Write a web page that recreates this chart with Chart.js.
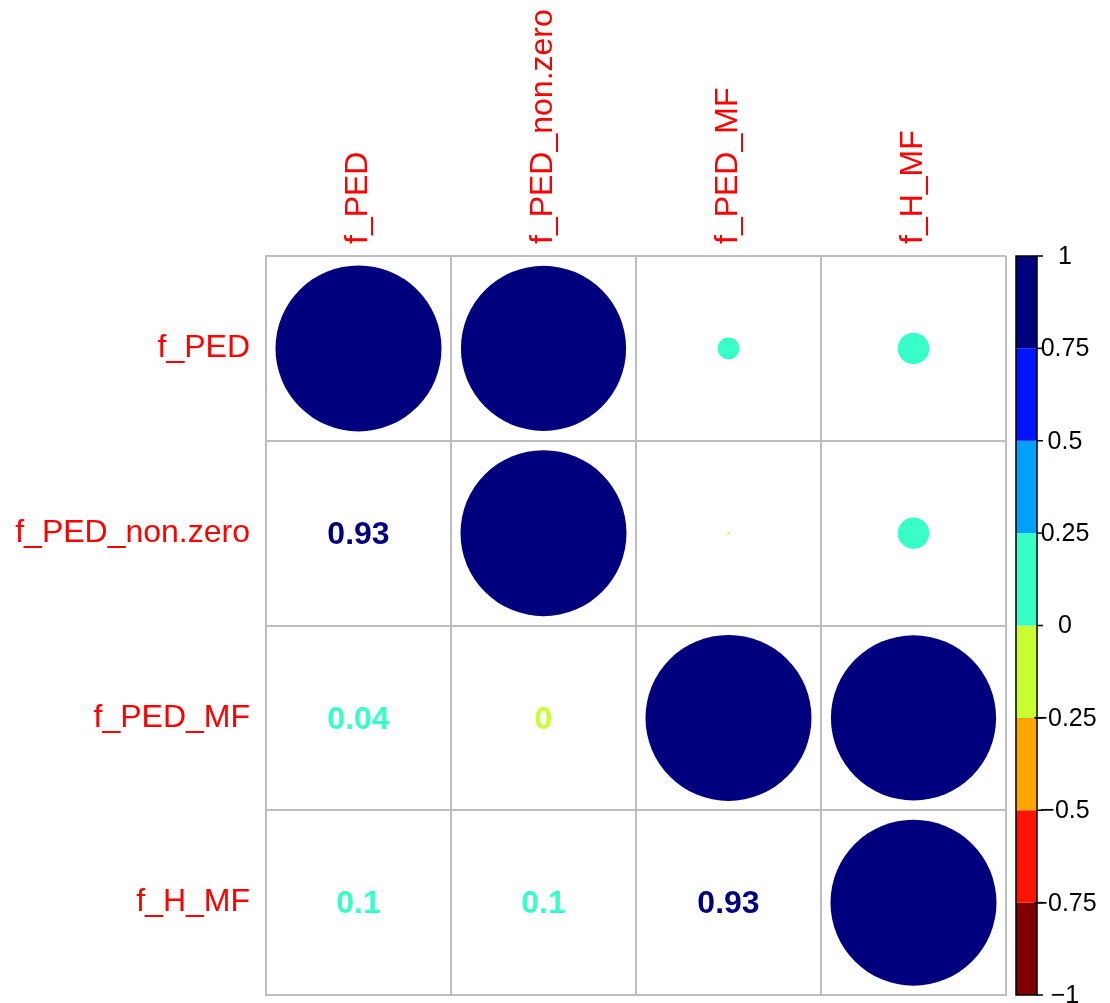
<!DOCTYPE html>
<html>
<head>
  <title>Корреляционная матрица</title>
  <script src="https://cdn.jsdelivr.net/npm/chart.js"></script>
  <style>
    body {
      margin: 0;
      background: #ffffff;
    }
    #chart-container {
      width: 1110px;
      height: 1003px;
      position: relative;
    }
  </style>
</head>
<body>
  <div id="chart-container">
    <canvas id="myChart"></canvas>
  </div>
  <script>
    // Переменные
    const variables = ['f_PED', 'f_PED_non.zero', 'f_PED_MF', 'f_H_MF'];

    // Коэффициенты, подписанные в нижнем треугольнике
    const corrNumbers = [
      [1, 0.93, 0.04, 0.1],
      [0.93, 1, -0.003, 0.1],
      [0.04, -0.003, 1, 0.93],
      [0.1, 0.1, 0.93, 1]
    ];

    // Значения, прочитанные по размеру кругов (верхний треугольник)
    const circleValues = [
      [1, 0.99, 0.017, 0.036],
      [0.99, 1, -0.0002, 0.036],
      [0.017, -0.0002, 1, 0.99],
      [0.036, 0.036, 0.99, 1]
    ];

    // Цветовая шкала
    const colorBreaks = [-1, -0.75, -0.5, -0.25, 0, 0.25, 0.5, 0.75, 1];
    const colorBins = ['#7F0000', '#FF1400', '#FFA500', '#C8FF32', '#38FFC8', '#00A0FF', '#0014FF', '#00007F'];
    const colorTickLabels = ['\u22121', '\u22120.75', '\u22120.5', '\u22120.25', '0', '0.25', '0.5', '0.75', '1'];

    const colorFor = (v) => {
      for (let i = 0; i < colorBins.length; i++) {
        if (v < colorBreaks[i + 1]) return colorBins[i];
      }
      return colorBins[colorBins.length - 1];
    };

    const fmt = (v) => String(Number(v.toFixed(2)));

    // Круги: диагональ и верхний треугольник
    const bubbles = [];
    for (let i = 0; i < variables.length; i++) {
      for (let j = i; j < variables.length; j++) {
        const v = circleValues[i][j];
        bubbles.push({ x: variables[j], y: variables[i], r: 83 * Math.sqrt(Math.abs(v)), v: v });
      }
    }

    const FONT = '"Liberation Sans", Arial, Helvetica, sans-serif';

    const corrPlugin = {
      id: 'corrPlugin',
      afterDraw(chart) {
        const ctx = chart.ctx;
        const xs = chart.scales.x;
        const ys = chart.scales.y;
        const area = chart.chartArea;
        ctx.save();

        // Числа в нижнем треугольнике
        ctx.font = 'bold 32px ' + FONT;
        ctx.textAlign = 'center';
        ctx.textBaseline = 'middle';
        for (let i = 1; i < variables.length; i++) {
          for (let j = 0; j < i; j++) {
            const v = corrNumbers[i][j];
            ctx.fillStyle = colorFor(v);
            ctx.fillText(fmt(v), xs.getPixelForValue(j), ys.getPixelForValue(i) + 2);
          }
        }

        // Подписи строк
        ctx.font = '32px ' + FONT;
        ctx.fillStyle = '#FF0000';
        ctx.textAlign = 'right';
        variables.forEach((name, i) => {
          ctx.fillText(name, area.left - 16, ys.getPixelForValue(i));
        });

        // Подписи столбцов (повернутые)
        variables.forEach((name, j) => {
          ctx.save();
          ctx.translate(xs.getPixelForValue(j), area.top - 12);
          ctx.rotate(-Math.PI / 2);
          ctx.textAlign = 'left';
          ctx.textBaseline = 'middle';
          ctx.fillText(name, 0, 0);
          ctx.restore();
        });

        // Цветовая шкала
        const x0 = area.right + 10;
        const w = 21;
        const yOf = (v) => area.bottom - (v + 1) / 2 * (area.bottom - area.top);
        for (let k = 0; k < colorBins.length; k++) {
          const yTop = yOf(colorBreaks[k + 1]);
          const yBot = yOf(colorBreaks[k]);
          ctx.fillStyle = colorBins[k];
          ctx.fillRect(x0, yTop, w, yBot - yTop);
        }
        ctx.strokeStyle = '#000000';
        ctx.lineWidth = 1.5;
        ctx.strokeRect(x0, yOf(1), w, yOf(-1) - yOf(1));
        ctx.font = '25px ' + FONT;
        ctx.fillStyle = '#000000';
        ctx.textAlign = 'center';
        ctx.textBaseline = 'middle';
        colorBreaks.forEach((b, k) => {
          const y = yOf(b);
          ctx.beginPath();
          ctx.moveTo(x0 + w, y);
          ctx.lineTo(x0 + w + 6, y);
          ctx.stroke();
          ctx.fillText(colorTickLabels[k], x0 + w + 28, y + 1);
        });

        ctx.restore();
      }
    };

    const gridStyle = {
      offset: true,
      color: '#BEBEBE',
      lineWidth: 2,
      drawTicks: false
    };

    const chartCanvas = document.getElementById('myChart');
    const chart = new Chart(chartCanvas.getContext('2d'), {
      type: 'bubble',
      data: {
        datasets: [{
          data: bubbles,
          backgroundColor: (c) => colorFor(c.raw.v),
          borderWidth: 0,
          hoverBorderWidth: 0,
          clip: false
        }]
      },
      options: {
        responsive: true,
        maintainAspectRatio: false,
        animation: false,
        events: [],
        layout: {
          autoPadding: false,
          padding: { left: 266, top: 256, right: 104, bottom: 8 }
        },
        scales: {
          x: {
            type: 'category',
            labels: variables,
            offset: true,
            grid: gridStyle,
            border: { color: '#BEBEBE', width: 2 },
            ticks: { display: false }
          },
          y: {
            type: 'category',
            labels: variables,
            offset: true,
            grid: gridStyle,
            border: { color: '#BEBEBE', width: 2 },
            ticks: { display: false }
          }
        },
        plugins: {
          legend: { display: false },
          tooltip: { enabled: false }
        }
      },
      plugins: [corrPlugin]
    });
  </script>
</body>
</html>
